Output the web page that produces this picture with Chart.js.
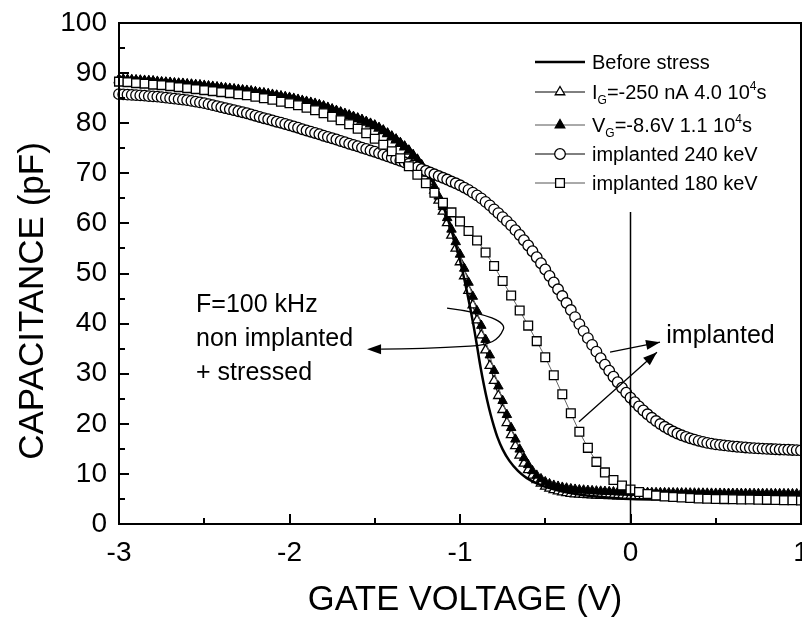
<!DOCTYPE html>
<html>
<head>
<meta charset="utf-8">
<script src="https://cdn.jsdelivr.net/npm/chart.js@4.4.1/dist/chart.umd.min.js"></script>
<style>
  html, body { margin: 0; padding: 0; background: #fff; }
  #cv { display: block; }
</style>
</head>
<body>
<canvas id="cv" width="802" height="617"></canvas>
<script>
  // gate voltage sweep (V): fine sweep for circles/triangles, coarse one for squares
  const V_START = -3;
  const STEP_FINE = 0.025;
  const STEP_COARSE = 0.05;

  // implanted 240 keV (pF), one value per 0.025 V from -3 to 1
  const c240 = [
    85.8, 85.75, 85.7, 85.65, 85.6, 85.55, 85.5, 85.4, 85.35, 85.3,
    85.2, 85.1, 85.0, 84.9, 84.8, 84.7, 84.6, 84.45, 84.3, 84.15,
    84.0, 83.8, 83.6, 83.4, 83.2, 83.0, 82.8, 82.6, 82.4, 82.2,
    82.0, 81.75, 81.5, 81.25, 81.0, 80.8, 80.55, 80.3, 80.1, 79.85,
    79.6, 79.35, 79.1, 78.8, 78.55, 78.3, 78.05, 77.8, 77.5, 77.25,
    77.0, 76.75, 76.45, 76.2, 75.9, 75.65, 75.4, 75.1, 74.85, 74.55,
    74.3, 74.0, 73.7, 73.4, 73.1, 72.8, 72.5, 72.2, 71.9, 71.55,
    71.2, 70.85, 70.5, 70.15, 69.8, 69.45, 69.1, 68.75, 68.35, 68.0,
    67.6, 67.15, 66.7, 66.15, 65.6, 65.0, 64.3, 63.6, 62.8, 62.05,
    61.25, 60.45, 59.6, 58.65, 57.7, 56.65, 55.6, 54.45, 53.25, 52.05,
    50.8, 49.5, 48.2, 46.85, 45.5, 44.1, 42.7, 41.3, 39.9, 38.5,
    37.1, 35.75, 34.4, 33.1, 31.8, 30.6, 29.4, 28.3, 27.2, 26.2,
    25.2, 24.3, 23.45, 22.65, 21.9, 21.2, 20.55, 19.95, 19.4, 18.9,
    18.45, 18.05, 17.7, 17.4, 17.1, 16.85, 16.6, 16.4, 16.2, 16.05,
    15.9, 15.8, 15.7, 15.6, 15.5, 15.42, 15.35, 15.28, 15.2, 15.15,
    15.1, 15.05, 15.0, 14.96, 14.92, 14.88, 14.85, 14.82, 14.78, 14.74,
    14.7
  ];

  // V_G = -8.6 V stress (filled triangles)
  const cVg = [
    88.8, 88.75, 88.7, 88.65, 88.6, 88.55, 88.5, 88.45, 88.4, 88.3,
    88.2, 88.15, 88.1, 88.0, 87.95, 87.9, 87.8, 87.75, 87.65, 87.6,
    87.5, 87.4, 87.3, 87.2, 87.1, 87.0, 86.9, 86.8, 86.7, 86.6,
    86.5, 86.4, 86.25, 86.1, 86.0, 85.85, 85.7, 85.55, 85.4, 85.25,
    85.1, 84.9, 84.7, 84.5, 84.3, 84.1, 83.9, 83.65, 83.4, 83.1,
    82.8, 82.5, 82.2, 81.9, 81.6, 81.3, 81.0, 80.7, 80.3, 79.95,
    79.6, 79.1, 78.6, 78.0, 77.4, 76.8, 76.1, 75.4, 74.6, 73.7,
    72.8, 71.7, 70.5, 69.0, 67.3, 65.4, 63.3, 61.1, 58.8, 56.3,
    53.8, 51.0, 48.2, 45.4, 42.5, 39.6, 36.8, 33.7, 30.6, 27.5,
    24.6, 21.8, 19.2, 16.9, 14.9, 13.2, 11.8, 10.6, 9.7, 9.0,
    8.4, 8.0, 7.7, 7.5, 7.3, 7.15, 7.0, 6.9, 6.8, 6.74,
    6.68, 6.62, 6.56, 6.52, 6.48, 6.44, 6.4, 6.37, 6.34, 6.32,
    6.3, 6.29, 6.28, 6.27, 6.26, 6.25, 6.24, 6.23, 6.22, 6.21,
    6.2, 6.19, 6.18, 6.17, 6.16, 6.15, 6.14, 6.13, 6.12, 6.11,
    6.1, 6.1, 6.09, 6.09, 6.08, 6.08, 6.07, 6.07, 6.06, 6.06,
    6.05, 6.05, 6.04, 6.04, 6.03, 6.03, 6.02, 6.02, 6.01, 6.01,
    6.0
  ];

  // I_G = -250 nA stress (open triangles)
  const cIg = [
    88.65, 88.6, 88.55, 88.5, 88.45, 88.4, 88.35, 88.3, 88.25, 88.15,
    88.05, 88.0, 87.95, 87.85, 87.8, 87.75, 87.65, 87.6, 87.5, 87.45,
    87.35, 87.25, 87.15, 87.05, 86.95, 86.85, 86.75, 86.65, 86.55, 86.45,
    86.35, 86.25, 86.1, 85.95, 85.85, 85.7, 85.55, 85.4, 85.25, 85.1,
    84.95, 84.75, 84.55, 84.35, 84.15, 83.95, 83.75, 83.5, 83.25, 82.95,
    82.65, 82.35, 82.05, 81.75, 81.45, 81.15, 80.85, 80.55, 80.15, 79.8,
    79.45, 78.95, 78.45, 77.85, 77.25, 76.65, 75.95, 75.25, 74.4, 73.5,
    72.5, 71.3, 70.0, 68.4, 66.6, 64.6, 62.4, 60.1, 57.6, 55.0,
    52.3, 49.5, 46.6, 43.7, 40.7, 37.7, 34.7, 31.6, 28.6, 25.6,
    22.8, 20.2, 17.8, 15.6, 13.7, 12.1, 10.8, 9.7, 8.8, 8.1,
    7.5, 7.1, 6.8, 6.55, 6.35, 6.2, 6.08, 5.98, 5.9, 5.85,
    5.8, 5.76, 5.72, 5.69, 5.66, 5.63, 5.6, 5.58, 5.56, 5.54,
    5.52, 5.51, 5.5, 5.5, 5.49, 5.49, 5.48, 5.48, 5.47, 5.47,
    5.46, 5.46, 5.45, 5.45, 5.44, 5.44, 5.43, 5.43, 5.42, 5.42,
    5.41, 5.41, 5.4, 5.4, 5.4, 5.39, 5.39, 5.39, 5.38, 5.38,
    5.38, 5.37, 5.37, 5.37, 5.36, 5.36, 5.36, 5.35, 5.35, 5.35,
    5.35
  ];

  // implanted 180 keV, one value per 0.05 V
  const c180 = [
    88.3, 88.2, 88.0, 87.9, 87.7, 87.6, 87.4, 87.2, 87.0, 86.8,
    86.6, 86.4, 86.2, 86.0, 85.8, 85.6, 85.3, 85.0, 84.7, 84.3,
    84.0, 83.6, 83.1, 82.6, 82.0, 81.3, 80.6, 79.8, 78.9, 78.0,
    76.9, 75.7, 74.4, 73.0, 71.4, 69.7, 68.0, 66.1, 64.1, 62.2,
    60.4, 58.5, 56.6, 54.2, 51.5, 48.5, 45.6, 42.6, 39.6, 36.5,
    33.3, 29.7, 25.9, 22.1, 18.4, 15.2, 12.4, 10.3, 8.8, 7.7,
    6.9, 6.4, 6.0, 5.7, 5.5, 5.4, 5.3, 5.2, 5.1, 5.05,
    5.0, 4.97, 4.94, 4.91, 4.88, 4.85, 4.82, 4.79, 4.76, 4.73,
    4.7
  ];

  // before stress: measured curve, given at uneven voltages
  const beforeV = [-3, -2.75, -2.5, -2.25, -2, -1.75, -1.5, -1.4, -1.3, -1.2,
    -1.15, -1.1, -1.05, -1.0, -0.96, -0.92, -0.9, -0.88, -0.86, -0.84,
    -0.82, -0.8, -0.78, -0.75, -0.71, -0.66, -0.61, -0.55, -0.49, -0.4,
    -0.3, -0.2, -0.1, 0, 0.25, 0.5, 0.75, 1];
  const beforeC = [88.9, 88.3, 87.6, 86.6, 85.2, 82.9, 79.7, 77.5, 74.7, 70.7,
    67.6, 63.6, 58.6, 52.6, 46.5, 39.5, 35.5, 31.4, 27.8, 24.6,
    21.8, 19.4, 17.3, 14.9, 12.6, 10.6, 9.2, 8.1, 7.3, 6.5,
    5.9, 5.5, 5.2, 5.0, 4.9, 4.85, 4.82, 4.8];

  // marker line at V = 0
  const zeroLineC = [0, 62.3];

  const xTicks = [-3, -2, -1, 0, 1];
  const yTicks = [0, 10, 20, 30, 40, 50, 60, 70, 80, 90, 100];

  const FONT = 'Liberation Sans, Arial, sans-serif';

  function sweep(values, step) {
    return values.map((c, i) => ({ x: +(V_START + i * step).toFixed(3), y: c }));
  }

  function arrowHead(ctx, x0, y0, x1, y1) {
    const ang = Math.atan2(y1 - y0, x1 - x0);
    const L = 14, W = 5;
    ctx.beginPath();
    ctx.moveTo(x1, y1);
    ctx.lineTo(x1 - L * Math.cos(ang) + W * Math.sin(ang), y1 - L * Math.sin(ang) - W * Math.cos(ang));
    ctx.lineTo(x1 - L * Math.cos(ang) - W * Math.sin(ang), y1 - L * Math.sin(ang) + W * Math.cos(ang));
    ctx.closePath();
    ctx.fillStyle = '#000';
    ctx.fill();
  }

  const framePlugin = {
    id: 'frame',
    afterDraw(chart) {
      const { ctx, chartArea: a, scales: { x, y } } = chart;
      ctx.save();
      ctx.strokeStyle = '#000';
      ctx.lineWidth = 2;
      ctx.strokeRect(a.left, a.top, a.right - a.left, a.bottom - a.top);
      // inward ticks, minor ones halfway
      ctx.beginPath();
      for (let v = -3; v <= 1.001; v += 0.5) {
        const px = Math.round(x.getPixelForValue(v));
        const len = Math.abs(v - Math.round(v)) < 1e-6 ? 10 : 6;
        ctx.moveTo(px, a.bottom); ctx.lineTo(px, a.bottom - len);
      }
      for (let v = 0; v <= 100; v += 5) {
        const py = Math.round(y.getPixelForValue(v));
        const len = v % 10 === 0 ? 10 : 6;
        ctx.moveTo(a.left, py); ctx.lineTo(a.left + len, py);
      }
      ctx.stroke();

      // axis titles
      ctx.fillStyle = '#000';
      ctx.textBaseline = 'alphabetic';
      ctx.textAlign = 'center';
      ctx.font = '34.5px ' + FONT;
      ctx.fillText('GATE VOLTAGE (V)', 465, 610);
      ctx.save();
      ctx.translate(43, 301);
      ctx.rotate(-Math.PI / 2);
      ctx.font = '35px ' + FONT;
      ctx.fillText('CAPACITANCE (pF)', 0, 0);
      ctx.restore();

      // legend
      const items = [
        { style: null, main: 'Before stress' },
        { style: 'triangle', fill: '#fff', line: '#000', parts: [['I', 0], ['G', 1], ['=-250 nA 4.0 10', 0], ['4', 2], ['s', 0]] },
        { style: 'triangle', fill: '#000', line: '#555', parts: [['V', 0], ['G', 1], ['=-8.6V 1.1 10', 0], ['4', 2], ['s', 0]] },
        { style: 'circle', fill: '#fff', line: '#000', main: 'implanted 240 keV' },
        { style: 'rect', fill: '#fff', line: '#555', main: 'implanted 180 keV' }
      ];
      const rows = [62, 92, 125, 154, 183];
      const lx0 = 535, lx1 = 585, tx = 592;
      ctx.textAlign = 'left';
      items.forEach((it, i) => {
        const ry = rows[i];
        ctx.beginPath();
        ctx.strokeStyle = it.style ? it.line : '#000';
        ctx.lineWidth = it.style ? 1 : 2.5;
        ctx.moveTo(lx0, ry); ctx.lineTo(lx1, ry);
        ctx.stroke();
        if (it.style) {
          ctx.fillStyle = it.fill;
          ctx.strokeStyle = '#000';
          ctx.lineWidth = 1.3;
          const r = it.style === 'rect' ? 6.2 : (it.style === 'circle' ? 5.3 : 5.5);
          Chart.helpers.drawPoint(ctx, { pointStyle: it.style, radius: r, rotation: 0, borderWidth: 1.3 }, (lx0 + lx1) / 2, ry);
        }
        ctx.fillStyle = '#000';
        const base = ry + 7;
        if (it.main) {
          ctx.font = '20px ' + FONT;
          ctx.fillText(it.main, tx, base);
        } else {
          let cx = tx;
          it.parts.forEach(([t, kind]) => {
            ctx.font = (kind ? '12px ' : '20px ') + FONT;
            const dy = kind === 1 ? 5 : (kind === 2 ? -9 : 0);
            ctx.fillText(t, cx, base + dy);
            cx += ctx.measureText(t).width;
          });
        }
      });

      // annotations (anchored in data units)
      const P = (v, c) => [x.getPixelForValue(v), y.getPixelForValue(c)];
      ctx.font = '25px ' + FONT;
      ctx.fillStyle = '#000';
      let p = P(-2.548, 42.3); ctx.fillText('F=100 kHz', p[0], p[1]);
      p = P(-2.548, 35.5); ctx.fillText('non implanted', p[0], p[1]);
      p = P(-2.548, 28.7); ctx.fillText('+ stressed', p[0], p[1]);
      p = P(0.21, 36.2); ctx.fillText('implanted', p[0], p[1]);

      ctx.lineWidth = 1.3;
      ctx.strokeStyle = '#000';
      const a0 = P(-1.076, 43.1), a1 = P(-0.748, 38.7), a2 = P(-0.941, 35.5), tip = P(-1.545, 34.9);
      ctx.beginPath();
      ctx.moveTo(a0[0], a0[1]);
      ctx.bezierCurveTo(a0[0] + 40, a0[1] + 5, a1[0] + 5, a1[1] - 8, a1[0], a1[1]);
      ctx.bezierCurveTo(a1[0] - 4, a1[1] + 10, a2[0] + 20, a2[1] - 1, a2[0], a2[1]);
      ctx.quadraticCurveTo(a2[0] - 50, a2[1] + 3, tip[0] + 14, tip[1]);
      ctx.stroke();
      arrowHead(ctx, tip[0] + 16, tip[1], tip[0], tip[1]);

      const s1 = P(-0.12, 34.3), e1 = P(0.173, 36.3);
      const s2 = P(-0.302, 20.4), e2 = P(0.155, 34.3);
      ctx.beginPath();
      ctx.moveTo(s1[0], s1[1]); ctx.lineTo(e1[0], e1[1]);
      ctx.moveTo(s2[0], s2[1]); ctx.lineTo(e2[0], e2[1]);
      ctx.stroke();
      arrowHead(ctx, s1[0], s1[1], e1[0], e1[1]);
      arrowHead(ctx, s2[0], s2[1], e2[0], e2[1]);
      ctx.restore();
    }
  };

  new Chart(document.getElementById('cv'), {
    type: 'scatter',
    data: {
      datasets: [
        {
          label: 'zero',
          data: zeroLineC.map(c => ({ x: 0, y: c })),
          showLine: true, borderColor: '#000', borderWidth: 1.5, pointRadius: 0, order: 0
        },
        {
          label: 'implanted 180 keV',
          data: sweep(c180, STEP_COARSE),
          showLine: true, borderColor: '#666', borderWidth: 1,
          pointStyle: 'rect', pointRadius: 6.2, pointBorderColor: '#000', pointBackgroundColor: '#fff',
          pointBorderWidth: 1.3, clip: false, order: 1
        },
        {
          label: 'implanted 240 keV',
          data: sweep(c240, STEP_FINE),
          showLine: true, borderColor: '#000', borderWidth: 1,
          pointStyle: 'circle', pointRadius: 5.3, pointBorderColor: '#000', pointBackgroundColor: '#fff',
          pointBorderWidth: 1.3, clip: false, order: 2
        },
        {
          label: 'Before stress',
          data: beforeV.map((v, i) => ({ x: v, y: beforeC[i] })),
          showLine: true, borderColor: '#000', borderWidth: 2.5, pointRadius: 0,
          cubicInterpolationMode: 'monotone', order: 3
        },
        {
          label: 'VG=-8.6V 1.1 10^4s',
          data: sweep(cVg, STEP_FINE),
          showLine: true, borderColor: '#666', borderWidth: 1,
          pointStyle: 'triangle', pointRadius: 5.5, pointBorderColor: '#000', pointBackgroundColor: '#000',
          pointBorderWidth: 1, clip: false, order: 4
        },
        {
          label: 'IG=-250 nA 4.0 10^4s',
          data: sweep(cIg, STEP_FINE),
          showLine: true, borderColor: '#000', borderWidth: 1,
          pointStyle: 'triangle', pointRadius: 5.5, pointBorderColor: '#000', pointBackgroundColor: '#fff',
          pointBorderWidth: 1.3, clip: false, order: 5
        }
      ]
    },
    options: {
      responsive: false,
      animation: false,
      events: [],
      layout: { autoPadding: false, padding: { left: 0, top: 23, right: 1, bottom: 0 } },
      plugins: { legend: { display: false }, tooltip: { enabled: false } },
      scales: {
        x: {
          type: 'linear', min: -3, max: 1,
          afterBuildTicks: s => { s.ticks = xTicks.map(v => ({ value: v })); },
          ticks: { color: '#000', font: { family: FONT, size: 28 }, padding: 12, maxRotation: 0 },
          grid: { display: false, drawTicks: false },
          border: { display: false },
          title: { display: false },
          afterFit: s => { s.height = 93; s.paddingLeft = 0; s.paddingRight = 0; }
        },
        y: {
          type: 'linear', min: 0, max: 100,
          afterBuildTicks: s => { s.ticks = yTicks.map(v => ({ value: v })); },
          ticks: { color: '#000', font: { family: FONT, size: 28 }, padding: 12 },
          grid: { display: false, drawTicks: false },
          border: { display: false },
          title: { display: false },
          afterFit: s => { s.width = 119; s.paddingTop = 0; s.paddingBottom = 0; }
        }
      }
    },
    plugins: [framePlugin]
  });
</script>
</body>
</html>
